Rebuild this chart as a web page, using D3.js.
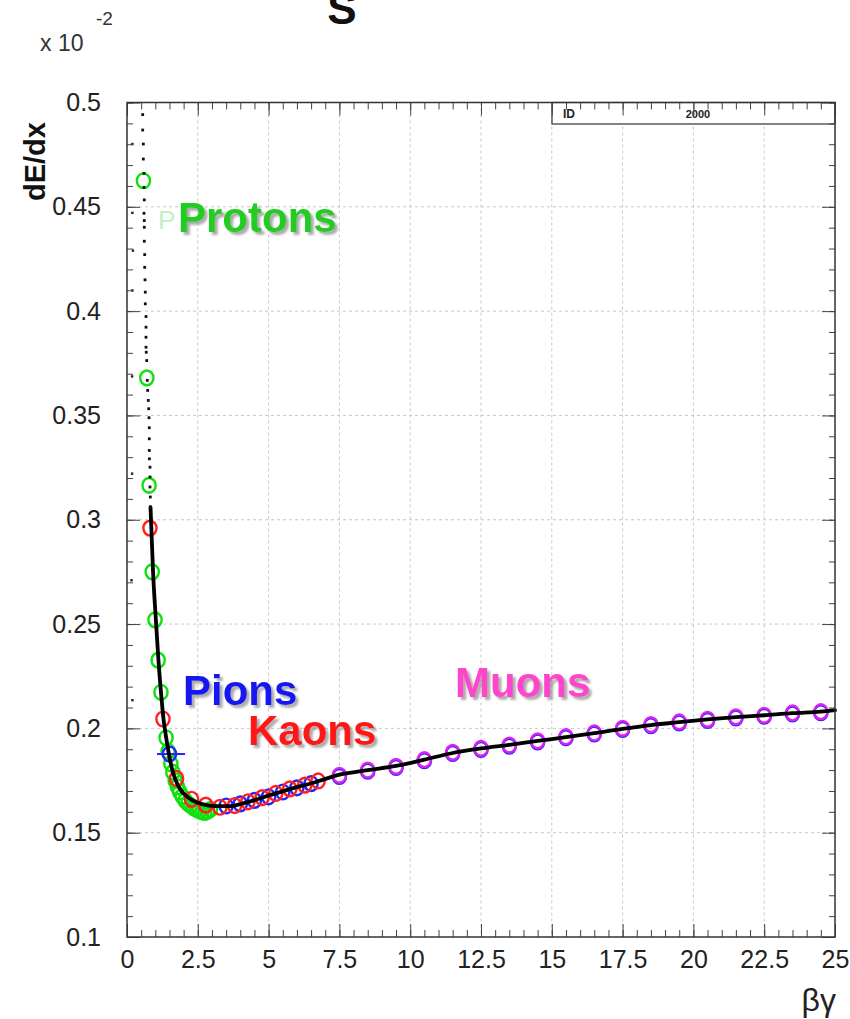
<!DOCTYPE html>
<html>
<head>
<meta charset="utf-8">
<script src="https://cdn.jsdelivr.net/npm/d3@7"></script>
<style>
  html, body { margin: 0; padding: 0; background: #fff; }
  svg { display: block; }
</style>
</head>
<body>
<svg id="chart" width="850" height="1019"></svg>
<script>
// ---- axis ticks ----
const xTickValues = [0, 2.5, 5, 7.5, 10, 12.5, 15, 17.5, 20, 22.5, 25];
const xTickLabels = ["0", "2.5", "5", "7.5", "10", "12.5", "15", "17.5", "20", "22.5", "25"];
const yTickValues = [0.1, 0.15, 0.2, 0.25, 0.3, 0.35, 0.4, 0.45, 0.5];
const yTickLabels = ["0.1", "0.15", "0.2", "0.25", "0.3", "0.35", "0.4", "0.45", "0.5"];

// ---- measured points: [βγ, dE/dx (x10^-2)] ----
const protons = [
  [0.58, 0.4625], [0.70, 0.368], [0.78, 0.3165], [0.89, 0.275], [0.99, 0.252],
  [1.10, 0.2327], [1.20, 0.2173], [1.38, 0.1955],
  [1.45, 0.189], [1.55, 0.183], [1.62, 0.179], [1.70, 0.175], [1.78, 0.172],
  [1.86, 0.1695], [1.95, 0.1675], [2.05, 0.1655], [2.15, 0.164], [2.25, 0.163],
  [2.35, 0.162], [2.45, 0.1612], [2.55, 0.1605], [2.65, 0.160], [2.75, 0.1597],
  [2.85, 0.1603], [2.95, 0.1612]
];
const pions = [
  [3.5, 0.1628], [4.0, 0.1638], [4.5, 0.1655], [5.0, 0.1672], [5.5, 0.1695],
  [6.0, 0.1715], [6.5, 0.1735], [7.5, 0.1770], [8.5, 0.1795], [9.5, 0.1813],
  [10.5, 0.1845], [11.5, 0.1880], [12.5, 0.1899], [13.5, 0.1915], [14.5, 0.1935],
  [15.5, 0.1955], [16.5, 0.1973], [17.5, 0.1995], [18.5, 0.2013], [19.5, 0.2026],
  [20.5, 0.2038], [21.5, 0.2050], [22.5, 0.2058], [23.5, 0.2069], [24.5, 0.2075]
];
// pion reference point with its βγ bin width
const pionBin = { x: 1.50, y: 0.1877, xLo: 1.06, xHi: 2.05 };
const kaons = [
  [0.81, 0.296], [1.27, 0.2045], [1.75, 0.176], [2.28, 0.166], [2.78, 0.1632],
  [3.28, 0.1622], [3.80, 0.163], [4.27, 0.1648], [4.77, 0.1668], [5.25, 0.1688],
  [5.75, 0.171], [6.28, 0.1728], [6.75, 0.1748]
];
const muons = [
  [7.5, 0.1775], [8.5, 0.1800], [9.5, 0.1818], [10.5, 0.1850], [11.5, 0.1885],
  [12.5, 0.1904], [13.5, 0.1920], [14.5, 0.1940], [15.5, 0.1960], [16.5, 0.1978],
  [17.5, 0.2000], [18.5, 0.2018], [19.5, 0.2031], [20.5, 0.2043], [21.5, 0.2055],
  [22.5, 0.2063], [23.5, 0.2074], [24.5, 0.2080]
];
// Bethe-Bloch band (dense sample drawn as a thick trace)
const blochCurve = [
  [0.83, 0.306], [0.86, 0.296], [0.92, 0.275], [1.02, 0.252], [1.11, 0.2327],
  [1.20, 0.2173], [1.29, 0.2044], [1.38, 0.1958], [1.48, 0.1877], [1.60, 0.1800],
  [1.69, 0.1762], [1.90, 0.1704], [2.10, 0.1675], [2.30, 0.1656], [2.65, 0.1637],
  [3.10, 0.1627], [3.64, 0.1627], [4.00, 0.1637], [4.50, 0.1656], [5.05, 0.1680],
  [5.75, 0.1709], [6.64, 0.1742], [7.50, 0.1778], [8.50, 0.1800], [9.50, 0.1820],
  [10.5, 0.1850], [11.5, 0.1882], [12.5, 0.1904], [13.5, 0.1921], [14.5, 0.1940],
  [15.5, 0.1958], [16.5, 0.1977], [17.5, 0.1998], [18.5, 0.2016], [19.5, 0.2030],
  [20.5, 0.2043], [21.5, 0.2054], [22.5, 0.2063], [23.5, 0.2073], [24.5, 0.2080],
  [25.0, 0.2087]
];
// sparse low-βγ sample above the band
const sparseDots = [
  [0.554, 0.4942], [0.554, 0.4868], [0.576, 0.4801], [0.576, 0.4729], [0.600, 0.4660],
  [0.600, 0.4593], [0.611, 0.4533], [0.600, 0.4469], [0.611, 0.4434], [0.611, 0.4402],
  [0.611, 0.4335], [0.625, 0.4271], [0.625, 0.4210], [0.636, 0.4150], [0.646, 0.4091],
  [0.646, 0.4035], [0.671, 0.3974], [0.671, 0.3923], [0.671, 0.3875], [0.671, 0.3827],
  [0.680, 0.3803], [0.696, 0.3763], [0.717, 0.3668], [0.730, 0.3620], [0.752, 0.3572],
  [0.766, 0.3532], [0.777, 0.3489], [0.787, 0.3441], [0.787, 0.3388], [0.787, 0.3332],
  [0.790, 0.3292], [0.812, 0.3252], [0.812, 0.3205], [0.812, 0.3157], [0.823, 0.3109],
  [0.823, 0.3061]
];
const strayDots = [
  [0.19, 0.4801], [0.19, 0.4471], [0.21, 0.4290], [0.19, 0.4099], [0.18, 0.3687],
  [0.18, 0.3221], [0.16, 0.2710], [0.19, 0.2135]
];

const svg = d3.select("#chart");
const plotL = 127, plotR = 835, plotT = 102.5, plotB = 937;

const x = d3.scaleLinear().domain([0, 25]).range([plotL, plotR]);
const y = d3.scaleLinear().domain([0.1, 0.5]).range([plotB, plotT]);

const FONT = "'Liberation Sans', Arial, Helvetica, sans-serif";

// drop shadow for the particle names
const defs = svg.append("defs");
defs.append("filter").attr("id", "labelShadow")
  .attr("x", "-10%").attr("y", "-20%").attr("width", "130%").attr("height", "150%")
  .append("feDropShadow").attr("dx", 3).attr("dy", 3).attr("stdDeviation", 0.8)
  .attr("flood-color", "#888").attr("flood-opacity", 0.7);

// ---- grid ----
const grid = svg.append("g").attr("stroke", "#c8c8c8").attr("stroke-width", 1)
  .attr("stroke-dasharray", "3,3");
grid.selectAll("line.gx").data(xTickValues.slice(1, -1)).join("line").attr("class", "gx")
  .attr("x1", d => x(d)).attr("x2", d => x(d)).attr("y1", plotT).attr("y2", plotB);
grid.selectAll("line.gy").data(yTickValues.slice(1, -1)).join("line").attr("class", "gy")
  .attr("x1", plotL).attr("x2", plotR).attr("y1", d => y(d)).attr("y2", d => y(d));

// ---- markers ----
const marks = svg.append("g").attr("fill", "none").attr("stroke-width", 2.4);
function rings(data, color) {
  marks.append("g").attr("stroke", color)
    .selectAll("ellipse").data(data).join("ellipse")
    .attr("cx", d => x(d[0])).attr("cy", d => y(d[1]))
    .attr("rx", 6.6).attr("ry", 7.4);
}
rings(protons, "#10e010");
rings(pions, "#2424ff");
// pion reference point with horizontal extent
marks.append("line").attr("stroke", "#2424ff").attr("stroke-width", 2)
  .attr("x1", x(pionBin.xLo)).attr("x2", x(pionBin.xHi))
  .attr("y1", y(pionBin.y)).attr("y2", y(pionBin.y));
marks.append("ellipse").attr("stroke", "#2424ff")
  .attr("cx", x(pionBin.x)).attr("cy", y(pionBin.y)).attr("rx", 6.6).attr("ry", 7.4);
rings(kaons, "#ff2020");
rings(muons, "#dd22ee");

// ---- black sample ----
svg.append("path").datum(blochCurve)
  .attr("fill", "none").attr("stroke", "#000").attr("stroke-width", 3.8)
  .attr("stroke-linejoin", "round").attr("stroke-linecap", "round")
  .attr("d", d3.line().x(d => x(d[0])).y(d => y(d[1])).curve(d3.curveMonotoneX));
svg.append("g").attr("fill", "#111").selectAll("rect").data(sparseDots).join("rect")
  .attr("x", d => x(d[0]) - 1.4).attr("y", d => y(d[1]) - 1.4)
  .attr("width", 2.8).attr("height", 2.8);
svg.append("g").attr("fill", "#222").selectAll("rect").data(strayDots).join("rect")
  .attr("x", d => x(d[0]) - 1.2).attr("y", d => y(d[1]) - 1.2)
  .attr("width", 2.4).attr("height", 2.4);

// ---- particle labels ----
const labels = [
  { text: "Protons", x: 178, y: 232, color: "#22cc22" },
  { text: "Pions", x: 183, y: 705, color: "#1414f0" },
  { text: "Kaons", x: 248, y: 745, color: "#ff1414" },
  { text: "Muons", x: 455, y: 697, color: "#ff44cc" }
];
svg.append("g").attr("font-family", FONT).attr("font-weight", "bold")
  .attr("font-size", 42).attr("filter", "url(#labelShadow)")
  .selectAll("text").data(labels).join("text")
  .attr("x", d => d.x).attr("y", d => d.y).attr("fill", d => d.color).text(d => d.text);
svg.append("text").attr("x", 158).attr("y", 229).attr("font-family", FONT)
  .attr("font-size", 26).attr("fill", "#bff2bf").text("P");

// ---- stat box ----
const box = svg.append("g");
box.append("rect").attr("x", 552).attr("y", plotT).attr("width", plotR - 552)
  .attr("height", 124 - plotT).attr("fill", "#fff").attr("stroke", "#333").attr("stroke-width", 1.2);
box.append("text").attr("x", 563).attr("y", 118).attr("font-family", FONT)
  .attr("font-size", 12).attr("font-weight", "bold").attr("fill", "#222").text("ID");
box.append("text").attr("x", 698).attr("y", 118).attr("text-anchor", "middle")
  .attr("font-family", FONT).attr("font-size", 11).attr("font-weight", "bold")
  .attr("fill", "#222").text("2000");

// ---- axes ----
const xMinor = d3.range(0, 25.01, 0.5);
const yMinor = d3.range(0.1, 0.5001, 0.01);

function styleAxis(g) {
  g.select(".domain").remove();
  g.selectAll(".tick line").attr("stroke", "#444").attr("stroke-width", 1);
}
// bottom
svg.append("g").attr("transform", `translate(0,${plotB})`)
  .call(d3.axisBottom(x).tickValues(xMinor).tickSize(-7).tickFormat(""))
  .call(styleAxis);
svg.append("g").attr("transform", `translate(0,${plotB})`)
  .call(d3.axisBottom(x).tickValues(xTickValues).tickSize(-13).tickPadding(13)
    .tickFormat((d, i) => xTickLabels[i]))
  .call(styleAxis)
  .call(g => g.selectAll("text").attr("font-family", FONT).attr("font-size", 25)
    .attr("fill", "#222"));
// top
svg.append("g").attr("transform", `translate(0,${plotT})`)
  .call(d3.axisTop(x).tickValues(xMinor).tickSize(-7).tickFormat("")).call(styleAxis);
svg.append("g").attr("transform", `translate(0,${plotT})`)
  .call(d3.axisTop(x).tickValues(xTickValues).tickSize(-13).tickFormat("")).call(styleAxis);
// left
svg.append("g").attr("transform", `translate(${plotL},0)`)
  .call(d3.axisLeft(y).tickValues(yMinor).tickSize(-6).tickFormat("")).call(styleAxis);
svg.append("g").attr("transform", `translate(${plotL},0)`)
  .call(d3.axisLeft(y).tickValues(yTickValues).tickSize(-13).tickPadding(26)
    .tickFormat((d, i) => yTickLabels[i]))
  .call(styleAxis)
  .call(g => g.selectAll("text").attr("font-family", FONT).attr("font-size", 25)
    .attr("fill", "#222"));
// right
svg.append("g").attr("transform", `translate(${plotR},0)`)
  .call(d3.axisRight(y).tickValues(yMinor).tickSize(-6).tickFormat("")).call(styleAxis);
svg.append("g").attr("transform", `translate(${plotR},0)`)
  .call(d3.axisRight(y).tickValues(yTickValues).tickSize(-13).tickFormat("")).call(styleAxis);

// frame
svg.append("rect").attr("x", plotL).attr("y", plotT).attr("width", plotR - plotL)
  .attr("height", plotB - plotT).attr("fill", "none").attr("stroke", "#333")
  .attr("stroke-width", 1.5);

// ---- axis titles, exponent, heading ----
svg.append("text").attr("transform", "translate(45,201) rotate(-90)")
  .attr("font-family", FONT).attr("font-weight", "bold").attr("font-size", 29)
  .attr("fill", "#111").text("dE/dx");
svg.append("text").attr("x", 836).attr("y", 1011).attr("text-anchor", "end")
  .attr("font-family", FONT).attr("font-size", 32).attr("fill", "#222").text("βγ");
svg.append("text").attr("x", 40).attr("y", 51).attr("font-family", FONT)
  .attr("font-size", 23).attr("fill", "#333").text("x 10");
svg.append("text").attr("x", 96).attr("y", 25).attr("font-family", FONT)
  .attr("font-size", 19).attr("fill", "#333").text("-2");
svg.append("text").attr("x", 342).attr("y", 24).attr("text-anchor", "middle")
  .attr("font-family", FONT).attr("font-weight", "bold").attr("font-size", 44)
  .attr("fill", "#111").text("S");
</script>
</body>
</html>
